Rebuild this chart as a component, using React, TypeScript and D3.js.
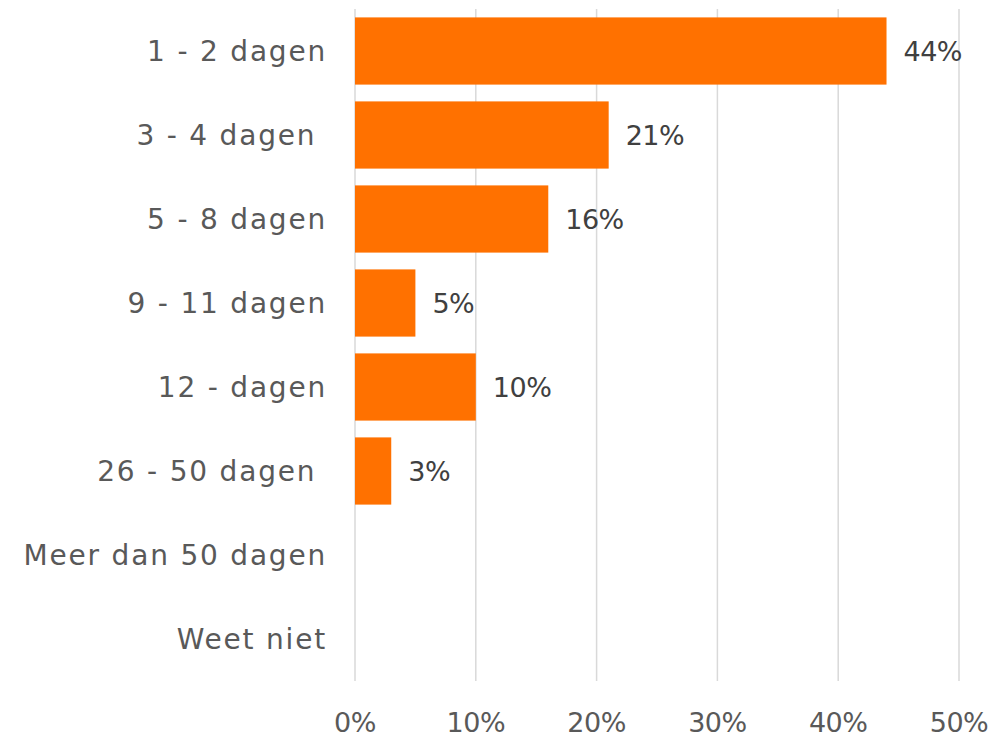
import React from "react";
import * as d3 from "d3";

const categories = [
  "1 - 2 dagen",
  "3 - 4 dagen ",
  "5 - 8 dagen",
  "9 - 11 dagen",
  "12 - dagen",
  "26 - 50 dagen ",
  "Meer dan 50 dagen",
  "Weet niet",
];
const values: (number | null)[] = [0.44, 0.21, 0.16, 0.05, 0.1, 0.03, null, null];
const tickValues = [0, 0.1, 0.2, 0.3, 0.4, 0.5];

const W = 994;
const H = 737;
const FONT = "'DejaVu Sans', sans-serif";

export default function App() {
  const x = d3.scaleLinear().domain([0, 0.5]).range([355, 959]);
  const y = d3
    .scaleBand<string>()
    .domain(categories)
    .range([9, 681])
    .paddingInner(0.2)
    .paddingOuter(0.1);
  const fmt = d3.format(".0%");
  return (
    <svg
      width={W}
      height={H}
      style={{ position: "absolute", left: 0, top: 0, background: "#fff" }}
    >
      {tickValues.map((t) => (
        <line
          key={"g" + t}
          x1={x(t)}
          x2={x(t)}
          y1={9}
          y2={681}
          stroke="#d9d9d9"
          strokeWidth={1.5}
        />
      ))}
      {categories.map((c, i) => {
        const v = values[i];
        if (v == null) return null;
        return (
          <rect
            key={"b" + c}
            x={x(0)}
            y={y(c)}
            width={x(v) - x(0)}
            height={y.bandwidth()}
            fill="#ff7100"
          />
        );
      })}
      {categories.map((c, i) => {
        const v = values[i];
        if (v == null) return null;
        return (
          <text
            key={"l" + c}
            x={x(v) + 17}
            y={(y(c) as number) + y.bandwidth() / 2}
            dy="0.37em"
            fontFamily={FONT}
            fontSize={27}
            letterSpacing={-0.5}
            fill="#404040"
          >
            {fmt(v)}
          </text>
        );
      })}
      {categories.map((c) => (
        <text
          key={"c" + c}
          x={327}
          y={(y(c) as number) + y.bandwidth() / 2}
          dy="0.37em"
          textAnchor="end"
          fontFamily={FONT}
          fontSize={28}
          letterSpacing={1.8}
          fill="#595959"
          style={{ whiteSpace: "pre" }}
        >
          {c}
        </text>
      ))}
      {tickValues.map((t) => (
        <text
          key={"t" + t}
          x={x(t)}
          y={722}
          dy="0.37em"
          textAnchor="middle"
          fontFamily={FONT}
          fontSize={27}
          letterSpacing={-0.5}
          fill="#595959"
        >
          {fmt(t)}
        </text>
      ))}
    </svg>
  );
}
